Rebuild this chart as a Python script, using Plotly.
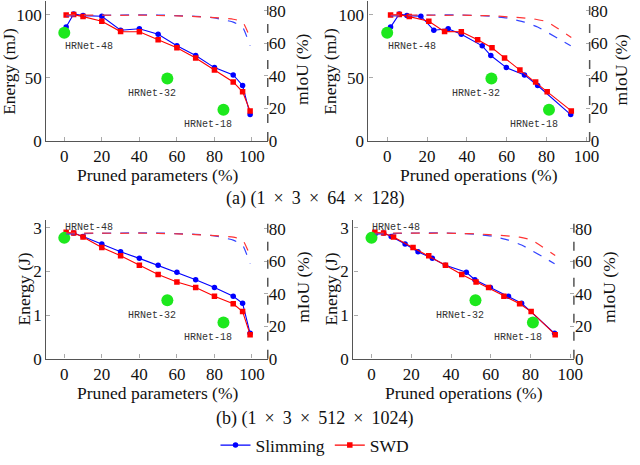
import plotly.graph_objects as go

# pruned fraction of each model along the two pruning paths
params_slim = [1, 5, 10, 20, 30, 40, 50, 60, 70, 80, 90, 95, 99]
params_swd = [1, 5, 10, 20, 30, 40, 50, 60, 70, 80, 90, 95, 99]
ops_slim = [1.7, 6.1, 9.9, 16.9, 23.4, 30.6, 37.2, 47.7, 52.0, 59.8, 68.9, 75.5, 92.1]
ops_swd = [1.7, 6.1, 11.1, 20.9, 28.8, 37.2, 45.4, 52.6, 58.9, 66.6, 74.5, 80.3, 92.4]

# energy, small input (mJ) and large input (J)
energy_small_slim = [90.4, 100.8, 99.5, 99.0, 87.9, 89.1, 84.7, 75.5, 67.8, 58.2, 52.4, 44.0, 20.9]
energy_small_swd = [100.0, 100.3, 98.7, 95.0, 86.8, 86.7, 80.4, 74.0, 65.9, 56.3, 46.8, 39.0, 23.8]
energy_large_slim = [2.85, 2.88, 2.80, 2.63, 2.45, 2.30, 2.14, 1.98, 1.81, 1.63, 1.43, 1.27, 0.58]
energy_large_swd = [2.90, 2.88, 2.79, 2.55, 2.36, 2.14, 1.93, 1.76, 1.63, 1.43, 1.26, 1.08, 0.55]

# mIoU (%)
miou_slim = [76.8, 76.9, 77.0, 77.2, 77.4, 77.5, 77.4, 77.0, 76.6, 75.6, 73.0, 70.0, 58.5]
miou_swd = [77.4, 77.5, 77.4, 77.3, 77.2, 77.3, 77.1, 76.9, 76.4, 75.8, 74.8, 73.2, 63.5]

# reference HRNet models
hrnet_names = ["HRNet-48", "HRNet-32", "HRNet-18"]
hrnet_params = [0, 54.9, 84.8]
hrnet_ops = [0, 52.3, 81.2]
hrnet_energy_small = [85.8, 49.6, 24.7]
hrnet_energy_large = [2.77, 1.34, 0.83]

W, H = 640, 465
FONT = "Liberation Serif"
BLUE = "#0000ff"
RED = "#ff0000"
GREEN = "#1de81d"
AXC = "#555555"
TXT = "#111111"

# panel boxes in pixels: left, right, top, bottom
panels = [
    dict(box=(47, 272, 0, 143.3), xr=[-9.6, 108.4], yr=[0, 111.1], mr=[0, 86.0],
         xs=(params_slim, params_swd), es=(energy_small_slim, energy_small_swd),
         hx=hrnet_params, he=hrnet_energy_small, yt=[0, 50, 100],
         xt="Pruned parameters (%)", top48=False),
    dict(box=(374.3, 599, 0, 143.3), xr=[-9.4, 101.6], yr=[0, 111.1], mr=[0, 86.0],
         xs=(ops_slim, ops_swd), es=(energy_small_slim, energy_small_swd),
         hx=hrnet_ops, he=hrnet_energy_small, yt=[0, 50, 100],
         xt="Pruned operations (%)", top48=False),
    dict(box=(47, 272, 224.3, 366.3), xr=[-9.6, 108.4], yr=[0, 3.18], mr=[0, 85.4],
         xs=(params_slim, params_swd), es=(energy_large_slim, energy_large_swd),
         hx=hrnet_params, he=hrnet_energy_large, yt=[0, 1, 2, 3],
         xt="Pruned parameters (%)", top48=True),
    dict(box=(359, 583, 224.3, 366.3), xr=[-9.1, 101.8], yr=[0, 3.18], mr=[0, 85.4],
         xs=(ops_slim, ops_swd), es=(energy_large_slim, energy_large_swd),
         hx=hrnet_ops, he=hrnet_energy_large, yt=[0, 1, 2, 3],
         xt="Pruned operations (%)", top48=True),
]

fig = go.Figure()
layout = {}
annotations = []
shapes = []
tickfont = dict(family=FONT, size=17, color=TXT)

for i, p in enumerate(panels):
    n = i + 1
    xa = "x" if n == 1 else "x%d" % n
    ye = "y%d" % (2 * n - 1) if n > 1 else "y"
    ym = "y%d" % (2 * n)
    l, r, t, b = p["box"]
    xd = [l / W, r / W]
    yd = [1 - b / H, 1 - t / H]
    xkey = "xaxis" if n == 1 else "xaxis%d" % n
    yekey = "yaxis" if n == 1 else "yaxis%d" % (2 * n - 1)
    ymkey = "yaxis%d" % (2 * n)
    layout[xkey] = dict(domain=xd, range=p["xr"], anchor=ye, showgrid=False, zeroline=False,
                        showline=True, linecolor=AXC, linewidth=1.3, ticks="inside", ticklen=4,
                        tickcolor="#aaaaaa", tickvals=[0, 20, 40, 60, 80, 100], tickfont=tickfont)
    layout[yekey] = dict(domain=yd, range=p["yr"], anchor=xa, showgrid=False, zeroline=False,
                         showline=True, linecolor=AXC, linewidth=1.3, ticks="inside", ticklen=4,
                         tickcolor="#aaaaaa", tickvals=p["yt"], tickfont=tickfont)
    layout[ymkey] = dict(domain=yd, range=p["mr"], anchor=xa, overlaying=ye, side="right",
                         showgrid=False, zeroline=False, showline=False, ticks="inside", ticklen=4,
                         tickcolor="#aaaaaa", tickvals=[0, 20, 40, 60, 80], tickfont=tickfont)

    # dashed right axis
    shapes.append(dict(type="line", xref=xa + " domain", yref=ye + " domain", x0=1, x1=1, y0=0, y1=1,
                       line=dict(color=AXC, width=1.5, dash="dash")))

    xs_slim, xs_swd = p["xs"]
    e_slim, e_swd = p["es"]
    # mIoU dashed curves
    fig.add_trace(go.Scatter(x=xs_slim, y=miou_slim, xaxis=xa, yaxis=ym, mode="lines",
                             line=dict(color="#3344ff", width=1.2, dash="dash", shape="spline", smoothing=0.4),
                             showlegend=False, hoverinfo="skip"))
    fig.add_trace(go.Scatter(x=xs_swd, y=miou_swd, xaxis=xa, yaxis=ym, mode="lines",
                             line=dict(color="#ff3333", width=1.2, dash="dash", shape="spline", smoothing=0.4),
                             showlegend=False, hoverinfo="skip"))
    # energy curves
    fig.add_trace(go.Scatter(x=xs_slim, y=e_slim, xaxis=xa, yaxis=ye, mode="lines+markers", name="Slimming",
                             line=dict(color=BLUE, width=1.1), marker=dict(symbol="circle", size=5.5, color=BLUE),
                             showlegend=(n == 1), legendgroup="slim"))
    fig.add_trace(go.Scatter(x=xs_swd, y=e_swd, xaxis=xa, yaxis=ye, mode="lines+markers", name="SWD",
                             line=dict(color=RED, width=1.1), marker=dict(symbol="square", size=5.5, color=RED),
                             showlegend=(n == 1), legendgroup="swd"))
    # HRNet reference points
    fig.add_trace(go.Scatter(x=p["hx"], y=p["he"], xaxis=xa, yaxis=ye, mode="markers",
                             marker=dict(size=12, color=GREEN), showlegend=False))
    for k, name in enumerate(hrnet_names):
        if k == 0:
            ann = dict(xanchor="left", xshift=-1, yshift=(10 if p["top48"] else -14))
        else:
            ann = dict(xanchor="right", xshift=11, yshift=-15)
        annotations.append(dict(x=p["hx"][k], y=p["he"][k], xref=xa, yref=ye, text=name, showarrow=False,
                                yanchor="middle", font=dict(family="Liberation Mono", size=10, color="#333"),
                                **ann))

    # x axis title
    cx = (l + r) / 2
    annotations.append(dict(x=cx / W, y=1 - (b + 35) / H, xref="paper", yref="paper", text=p["xt"],
                            showarrow=False, xanchor="center", yanchor="middle",
                            font=dict(family=FONT, size=17.5, color=TXT)))

ytitle_pos = [(9, 71.7, "Energy (mJ)"), (335, 71.7, "Energy (mJ)"), (24.5, 295.3, "Energy (J)"),
              (336.5, 295.3, "Energy (J)"), (307.5, 70, "mIoU (%)"), (631, 70, "mIoU (%)"),
              (307.5, 293, "mIoU (%)"), (618.5, 293, "mIoU (%)")]
for x, y, txt in ytitle_pos:
    annotations.append(dict(x=x / W, y=1 - y / H, xref="paper", yref="paper", text=txt, textangle=-90,
                            showarrow=False, xanchor="center", yanchor="middle",
                            font=dict(family=FONT, size=17.5, color=TXT)))

sp = " \u2009×\u2009 "
for y, txt in [(202, "(a) (1" + sp + "3" + sp + "64" + sp + "128)"),
               (428, "(b) (1" + sp + "3" + sp + "512" + sp + "1024)")]:
    annotations.append(dict(x=0.5, y=1 - y / H, xref="paper", yref="paper", text=txt, showarrow=False,
                            xanchor="center", yanchor="middle", font=dict(family=FONT, size=18, color=TXT)))

fig.update_layout(**layout)
fig.update_layout(
    width=W, height=H, margin=dict(l=0, r=0, t=0, b=0),
    plot_bgcolor="white", paper_bgcolor="white",
    annotations=annotations, shapes=shapes,
    legend=dict(orientation="h", x=0.5, xanchor="center", y=1 - 455 / H, yanchor="middle",
                font=dict(family=FONT, size=17.5, color=TXT), bgcolor="rgba(0,0,0,0)",
                itemwidth=30, tracegroupgap=0),
)

# pin the page to the window size so the figure sits at the origin without scrolling
pin = ("document.documentElement.style.margin='0';document.documentElement.style.overflow='hidden';"
       "document.body.style.margin='0';document.body.style.overflow='hidden';"
       "document.body.style.height='465px';"
       "var g=document.getElementById('{plot_id}');g.parentNode.style.height='465px';"
       "g.parentNode.style.overflow='hidden';")
fig.write_html("out.html", config={"displayModeBar": False}, post_script=pin)
